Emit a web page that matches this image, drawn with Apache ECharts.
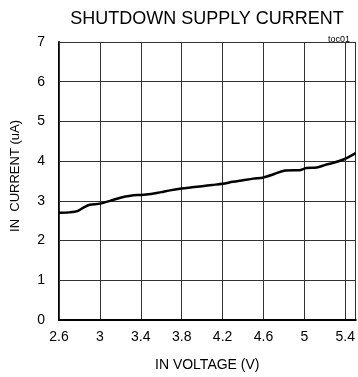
<!DOCTYPE html>
<html><head><meta charset="utf-8">
<script src="https://cdn.jsdelivr.net/npm/echarts@6/dist/echarts.min.js"></script>
<style>html,body{margin:0;padding:0;background:#fff}#c{width:358px;height:377px}</style>
</head><body><div id="c"></div>
<script>
var title = 'SHUTDOWN SUPPLY CURRENT';
var xName = 'IN VOLTAGE (V)';
var yName = 'IN  CURRENT (uA)';
var xMinV = 2.6, xMaxV = 5.5, xStep = 0.4;
var voltage = [2.6, 2.7, 2.78, 2.84, 2.9, 3.0, 3.1, 3.2, 3.3, 3.4, 3.5, 3.6, 3.7, 3.8, 3.9, 4.0, 4.1, 4.2, 4.3, 4.4, 4.5, 4.6, 4.7, 4.8, 4.9, 4.95, 5.02, 5.12, 5.2, 5.3, 5.4, 5.5];
var current = [2.7, 2.71, 2.74, 2.83, 2.9, 2.93, 3.0, 3.08, 3.13, 3.15, 3.17, 3.22, 3.27, 3.31, 3.34, 3.37, 3.4, 3.43, 3.48, 3.52, 3.56, 3.59, 3.67, 3.76, 3.77, 3.77, 3.83, 3.84, 3.9, 3.97, 4.06, 4.2];

var chart = echarts.init(document.getElementById('c'));
var pts = voltage.map(function(v, i){ return [v - xMinV, current[i]]; });
var font = 'Liberation Sans, Arial, sans-serif';
chart.setOption({
  animation: false,
  title: [{text: title, left: 202, top: 5, textAlign: 'center',
    textStyle: {fontFamily: font, fontWeight: 'normal', fontSize: 18, color: '#000'}},
    {text: 'toc01', right: 3, top: 30, textStyle: {fontFamily: font, fontWeight: 'normal', fontSize: 9, color: '#000'}}],
  graphic: [{type: 'text', left: 9, top: 120, rotation: Math.PI / 2,
    style: {text: yName, font: '13px Liberation Sans, Arial, sans-serif', fill: '#000'}}],
  grid: {left: 59, right: 1, top: 42, bottom: 55},
  xAxis: [{type: 'value', min: 0, max: xMaxV - xMinV, interval: xStep,
    name: xName, nameLocation: 'middle', nameGap: 38,
    nameTextStyle: {fontFamily: font, fontSize: 14, color: '#000'},
    axisLine: {show: true, lineStyle: {color: '#000', width: 2}},
    axisTick: {show: false},
    axisLabel: {fontFamily: font, fontSize: 14, color: '#000', margin: 10, showMaxLabel: false,
      formatter: function(v){ return String(Number((v + xMinV).toFixed(1))); }},
    splitLine: {show: true, lineStyle: {color: '#333', width: 1}}},
    {type: 'value', position: 'top', min: 0, max: xMaxV - xMinV,
    axisLine: {show: true, lineStyle: {color: '#000', width: 2}},
    axisTick: {show: false}, axisLabel: {show: false}, splitLine: {show: false}}],
  yAxis: [{type: 'value', min: 0, max: 7, interval: 1,
    axisLine: {show: true, lineStyle: {color: '#000', width: 2}},
    axisTick: {show: false},
    axisLabel: {fontFamily: font, fontSize: 14, color: '#000', margin: 14},
    splitLine: {show: true, lineStyle: {color: '#333', width: 1}}},
    {type: 'value', position: 'right', min: 0, max: 7,
    axisLine: {show: true, lineStyle: {color: '#333', width: 1}},
    axisTick: {show: false}, axisLabel: {show: false}, splitLine: {show: false}}],
  series: [{type: 'line', data: pts, showSymbol: false, smooth: 0.3,
    lineStyle: {color: '#000', width: 2.5}}]
});
</script></body></html>
